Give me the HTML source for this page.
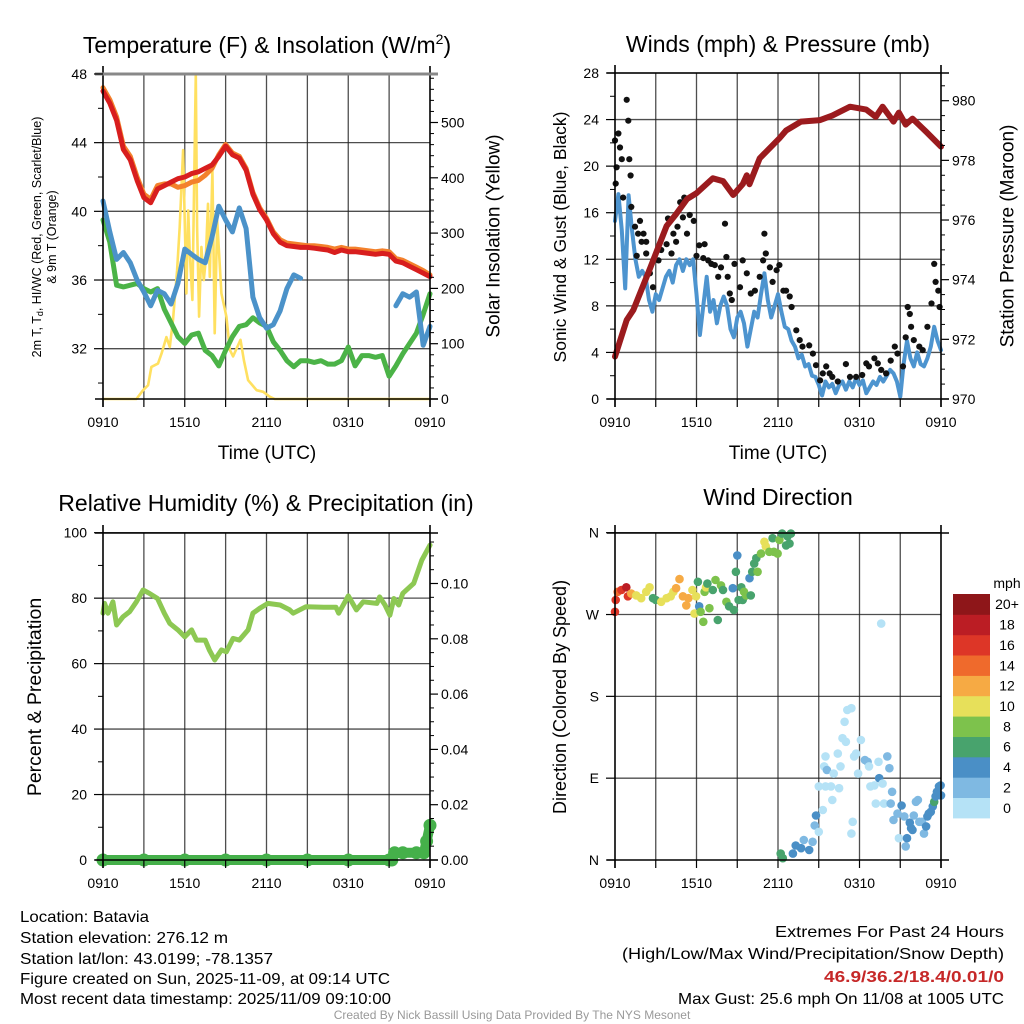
<!DOCTYPE html>
<html><head><meta charset="utf-8"><title>Mesonet Meteogram</title>
<style>
html,body{margin:0;padding:0;background:#fff;}
svg{display:block;font-family:"Liberation Sans",Arial,sans-serif;}
</style></head>
<body>
<svg id="chart" width="1024" height="1024" viewBox="0 0 1024 1024" xmlns="http://www.w3.org/2000/svg">
<rect x="0" y="0" width="1024" height="1024" fill="#fff"/>
<text x="267" y="53" font-size="23" text-anchor="middle">Temperature (F) &amp; Insolation (W/m<tspan font-size="14" dy="-9">2</tspan><tspan dy="9">)</tspan></text>
<text x="778" y="52" font-size="23" text-anchor="middle">Winds (mph) &amp; Pressure (mb)</text>
<text x="266" y="511" font-size="23" text-anchor="middle">Relative Humidity (%) &amp; Precipitation (in)</text>
<text x="778" y="505" font-size="23" text-anchor="middle">Wind Direction</text>
<text x="267" y="459" font-size="19" text-anchor="middle">Time (UTC)</text>
<text x="778" y="459" font-size="19" text-anchor="middle">Time (UTC)</text>
<text transform="translate(37,237) rotate(-90)" font-size="12.5" text-anchor="middle" dominant-baseline="central">2m T, T<tspan font-size="9" dy="3">d</tspan><tspan dy="-3">, HI/WC (Red, Green, Scarlet/Blue)</tspan></text>
<text transform="translate(52,237) rotate(-90)" font-size="12.5" text-anchor="middle" dominant-baseline="central">&amp; 9m T (Orange)</text>
<text transform="translate(494,236) rotate(-90)" font-size="19" text-anchor="middle" dominant-baseline="central">Solar Insolation (Yellow)</text>
<text transform="translate(560,237) rotate(-90)" font-size="17.5" text-anchor="middle" dominant-baseline="central">Sonic Wind &amp; Gust (Blue, Black)</text>
<text transform="translate(1008,236) rotate(-90)" font-size="19" text-anchor="middle" dominant-baseline="central">Station Pressure (Maroon)</text>
<text transform="translate(35,697) rotate(-90)" font-size="19.5" text-anchor="middle" dominant-baseline="central">Percent &amp; Precipitation</text>
<text transform="translate(560,697) rotate(-90)" font-size="18" text-anchor="middle" dominant-baseline="central">Direction (Colored By Speed)</text>
<g font-size="16">
<text x="20" y="922" textLength="129" lengthAdjust="spacingAndGlyphs">Location: Batavia</text>
<text x="20" y="943" textLength="208" lengthAdjust="spacingAndGlyphs">Station elevation: 276.12 m</text>
<text x="20" y="964" textLength="253" lengthAdjust="spacingAndGlyphs">Station lat/lon: 43.0199; -78.1357</text>
<text x="20" y="984" textLength="370" lengthAdjust="spacingAndGlyphs">Figure created on Sun, 2025-11-09, at 09:14 UTC</text>
<text x="20" y="1004" textLength="371" lengthAdjust="spacingAndGlyphs">Most recent data timestamp: 2025/11/09 09:10:00</text>
</g>
<g font-size="16" text-anchor="end">
<text x="1004" y="937" textLength="229" lengthAdjust="spacingAndGlyphs">Extremes For Past 24 Hours</text>
<text x="1004" y="959" textLength="382" lengthAdjust="spacingAndGlyphs">(High/Low/Max Wind/Precipitation/Snow Depth)</text>
<text x="1004" y="982" fill="#c62828" font-weight="bold" textLength="180" lengthAdjust="spacingAndGlyphs">46.9/36.2/18.4/0.01/0</text>
<text x="1004" y="1004" textLength="326" lengthAdjust="spacingAndGlyphs">Max Gust: 25.6 mph On 11/08 at 1005 UTC</text>
</g>
<text x="512" y="1019" font-size="12" fill="#999" text-anchor="middle">Created By Nick Bassill Using Data Provided By The NYS Mesonet</text>
<g id="plots"></g>
</svg>
<script>
const halfHours = [0,0.5,1,1.5,2,2.5,3,3.5,4,4.5,5,5.5,6,6.5,7,7.5,8,8.5,9,9.5,10,10.5,11,11.5,12,12.5,13,13.5,14,14.5,15,15.5,16,16.5,17,17.5,18,18.5,19,19.5,20,20.5,21,21.5,22,22.5,23,23.5,24];
const tempRed = [47.0,46.3,45.3,43.6,43.0,41.8,40.8,40.5,41.3,41.5,41.7,41.9,42.0,42.2,42.3,42.5,42.7,43.2,43.8,43.3,43.1,42.4,41.0,40.1,39.5,38.7,38.2,38.0,37.95,37.9,37.9,37.85,37.8,37.75,37.6,37.75,37.65,37.65,37.6,37.55,37.5,37.55,37.5,37.1,37.0,36.8,36.6,36.4,36.2];
const tempOrange = [47.2,46.5,45.5,43.8,43.2,42.0,41.0,40.7,41.5,41.6,41.6,41.4,41.5,41.7,41.8,42.1,42.5,43.3,43.9,43.4,43.2,42.5,41.1,40.2,39.6,38.8,38.35,38.15,38.1,38.05,38.0,38.0,37.95,37.9,37.8,37.9,37.8,37.8,37.75,37.7,37.65,37.7,37.65,37.25,37.15,36.95,36.75,36.55,36.3];
const tempBlue = [40.6,38.8,37.2,37.6,37.0,36.0,35.3,34.5,35.4,35.2,34.6,35.8,37.8,37.5,37.2,37.0,38.5,40.3,39.5,38.8,40.2,39.0,35.0,33.8,33.2,33.4,34.2,35.5,36.3,36.1,null,null,null,null,null,null,null,null,null,null,null,null,null,34.5,35.2,35.0,35.3,32.2,33.3];
const tempGreen = [39.5,38.2,35.7,35.6,35.7,35.8,35.5,35.3,35.5,34.3,33.5,32.7,32.3,32.8,32.9,31.9,31.6,31.0,31.9,32.7,33.3,33.4,33.8,33.5,33.3,32.4,31.9,31.3,30.95,31.3,31.3,31.2,31.3,31.1,31.1,31.3,32.1,31.0,31.6,31.6,31.5,31.6,30.4,31.0,31.7,32.3,32.9,34.0,35.2];
const solarHours = [0,2.45,2.94,3.31,3.55,4.04,4.29,4.65,4.9,5.14,5.44,5.63,5.88,6.12,6.25,6.37,6.56,6.81,6.91,7.05,7.22,7.4,7.54,7.71,7.84,8.03,8.2,8.38,8.69,9.06,9.31,9.55,10.09,10.34,10.65,11.27,11.76,12.25,12.61,24];
const solarValues = [0,0,16,25,58,64,82,112,94,143,233,311,450,191,341,263,179,588,311,149,275,215,251,353,221,414,119,323,191,149,89,77,107,70,34,16,13,4,0,0];
const pressureHours = [0,0.86,1.35,2.6,3.8,4.5,5.3,6,7.2,7.96,8.7,9.4,9.7,9.9,10.65,12.1,12.6,13.7,15.1,16,17.3,18.5,19.2,19.7,20.5,20.9,21.4,21.9,22.9,24];
const pressureValues = [971.42,972.65,972.98,974.4,975.8,976.2,976.7,976.9,977.4,977.3,976.84,977.2,977.5,977.2,978.07,978.74,979.0,979.3,979.35,979.5,979.8,979.7,979.46,979.8,979.3,979.6,979.2,979.4,978.96,978.46];
const windHours = [0,0.25,0.5,0.75,1,1.25,1.5,1.75,2,2.25,2.5,2.75,3,3.25,3.5,3.75,4,4.25,4.5,4.75,5,5.25,5.5,5.75,6,6.25,6.5,6.75,7,7.25,7.5,7.75,8,8.25,8.5,8.75,9,9.25,9.5,9.75,10,10.25,10.5,10.75,11,11.25,11.5,11.75,12,12.25,12.5,12.75,13,13.25,13.5,13.75,14,14.25,14.5,14.75,15,15.25,15.5,15.75,16,16.25,16.5,16.75,17,17.25,17.5,17.75,18,18.25,18.5,18.75,19,19.25,19.5,19.75,20,20.25,20.5,20.75,21,21.25,21.5,21.75,22,22.25,22.5,22.75,23,23.25,23.5,23.75,24];
const windSpeeds = [15.3,17.6,14.5,9.5,17.5,14.5,12,10.5,11,10.5,8.5,7.5,9,8.5,9.5,10.5,11,10,11.5,12,11,12,11.5,12,9,5.5,8,10.5,7.5,8.5,6.5,8,8.8,8,6,5.3,7,7.5,6.5,4.5,6,7.5,7,9,10.8,8.5,7,8,9,7.5,6.2,6,5,4.5,3.5,3.8,2.8,3,2,1.9,1.2,0.3,1.5,1,1.3,0.5,1.2,1.5,0.8,1.5,1,1.8,1.2,1.6,0.5,1,1.5,1.2,1.9,1.5,2,2.5,2.2,1.5,0.2,3,5,3.5,2.8,4,3,2.8,3.5,4.5,6.2,5,4.2];
const gustHours = [0,0.05,0.12,0.25,0.37,0.5,0.6,0.86,0.98,1.05,1.15,1.2,1.47,1.6,1.7,1.84,1.96,2.1,2.3,2.3,2.57,2.8,3.2,3.4,3.8,3.9,4.16,4.3,4.5,4.6,4.8,5.0,5.1,5.3,5.5,5.8,6.0,6.2,6.5,6.6,6.86,7.1,7.35,7.6,7.8,8.1,8.2,8.3,8.45,8.6,8.8,9.2,9.4,9.7,10.0,10.3,10.65,10.9,11.0,11.1,11.4,11.6,11.9,12.1,12.4,12.6,12.86,13.0,13.35,13.6,13.8,14.3,14.57,14.8,15.1,15.3,15.55,15.8,16.0,16.4,17.0,17.3,17.75,18.2,18.5,18.7,19.1,19.35,19.6,19.96,20.3,20.6,20.8,21.2,21.4,21.55,21.7,21.8,22.0,22.4,22.65,23.0,23.3,23.5,23.6,23.8,23.9];
const gustValues = [22.2,18.5,19.9,22.8,21.6,20.6,17.3,25.7,23.9,20.6,19.2,16.5,14.8,12.3,14.2,15.3,13.5,14.2,13.5,12.5,10.8,9.6,11.9,12.8,13.3,15.5,12.5,14.2,13.5,14.8,16.9,15.6,17.3,14.2,15.8,15.3,12.3,13.2,12.1,13.3,11.9,11.6,11.5,10.5,11.3,15.06,12.2,10.5,9.06,8.5,11.6,9.6,11.9,10.8,9.06,9.3,10.5,11.9,14.2,12.5,11.3,10.06,11.06,11.5,9.3,9.3,8.8,7.9,5.9,5.06,4.5,4.6,3.9,2.9,1.6,2.2,2.8,2.2,1.9,1.5,3.0,1.9,1.9,2.06,3.06,2.8,3.5,3.06,2.5,2.2,3.3,4.5,3.9,2.8,5.3,7.9,7.3,6.2,5.06,4.5,4.2,6.2,8.2,11.6,10.06,9.3,7.9];
const rhHours = [0,0.12,0.37,0.73,1.0,1.47,1.96,2.45,2.94,3.4,4.0,4.5,4.9,5.5,6.0,6.5,6.86,7.5,7.8,8.2,8.7,9.06,9.55,10.0,10.65,11.0,11.5,12.1,13.0,13.7,13.96,14.9,16.2,17.1,17.3,18.0,18.6,19.1,20.1,20.3,20.7,21.06,21.35,21.7,22.0,22.8,23.4,24];
const rhValues = [75.4,78.4,75.4,78.9,71.8,74.3,75.9,78.9,82.5,81.5,79.9,75.4,72.3,70.3,68.2,70.3,67.2,67.2,64.2,61.1,64.2,63.6,67.7,67.2,70.3,75.4,76.9,78.4,77.9,76.4,75.4,77.4,77.2,77.2,75.4,80.7,76.4,78.9,78.4,80.4,77.9,74.8,79.9,77.9,81.5,84.5,91.6,96.2];
const precipHours = [0,3,6,9,12,15,18,21,21.2,21.4,22,23,23.55,23.75,24];
const precipValues = [0,0,0,0,0,0,0,0,0,0.0026,0.0026,0.0026,0.0026,0.0068,0.0125];
const dirHours = [0,0.05,0.2,0.47,0.83,0.95,1.2,1.57,1.93,2.3,2.55,2.8,3.0,3.4,3.8,4.1,4.3,4.5,4.75,5.0,5.25,5.4,5.7,5.85,5.97,6.1,6.2,6.3,6.5,6.6,6.7,6.8,6.95,7.2,7.4,7.57,7.8,7.95,8.2,8.4,8.67,8.75,8.9,9.0,9.1,9.3,9.4,9.5,9.65,9.9,10.0,10.1,10.25,10.4,10.5,10.75,11.0,11.1,11.36,11.6,11.7,11.97,12.1,12.3,12.6,12.7,12.85,12.95,12.2,12.35,13.1,13.3,13.7,13.9,14.3,14.55,14.8,14.7,15.0,15.3,15.0,15.5,15.4,15.5,15.6,15.9,16.0,16.1,16.4,16.5,16.6,16.75,16.9,17.0,17.1,17.4,17.5,17.4,17.6,17.75,17.9,18.1,18.4,18.6,18.7,18.8,19.1,19.2,19.4,19.45,19.6,19.7,19.8,20.05,20.2,20.3,20.4,20.5,20.8,20.9,21.1,21.3,21.4,21.5,21.7,21.8,21.9,22.0,22.15,22.3,22.4,22.6,22.75,22.9,23.0,23.1,23.25,23.4,23.5,23.6,23.7,23.85,23.97,24];
const dirDegrees = [273,286,295,297,300,290,293,291,288,295,300,288,286,284,288,290,295,299,309,290,280,288,297,271,290,306,279,273,262,295,300,304,277,297,308,264,302,297,284,279,299,275,317,335,286,300,286,295,291,310,291,317,326,332,317,337,350,345,339,354,339,337,352,359,346,356,348,359,7,2,7,16,13,22,11,20,49,38,31,55,81,81,103,114,99,81,66,95,117,79,103,134,152,130,165,167,42,29,114,117,95,132,110,108,103,81,82,62,108,90,260,84,62,114,101,62,75,44,51,24,60,48,15,24,41,35,33,49,64,66,42,42,29,37,48,51,53,59,64,70,75,81,82,71];
const dirSpeeds = [16,16,14,16,18,16,12,10,10,10,10,6,6,10,10,10,10,12,12,12,12,12,10,10,10,6,4,8,8,8,10,6,8,6,8,6,8,6,8,6,4,6,6,4,6,6,6,8,8,4,6,6,6,6,8,8,10,10,8,6,8,8,8,6,6,6,6,6,6,6,4,4,4,2,4,2,4,2,0,0,0,0,0,0,2,0,0,0,0,0,0,0,0,0,0,0,0,0,0,0,0,0,2,2,0,0,0,0,0,4,0,0,0,2,2,2,2,2,2,0,4,2,2,4,4,4,4,2,2,2,2,2,2,4,4,4,4,4,6,4,4,4,4,4];
const speedColors = ["#b5e2f6","#7fb9e2","#4a8fc6","#48a36d","#7dc24c","#e7e05a","#f6aa44","#ef6a2c","#dd3627","#bb1d24","#8e1619"];
const speedLabels = ["0","2","4","6","8","10","12","14","16","18","20+"];
const tempTicks = [32,36,40,44,48];
const solarTicks = [0,100,200,300,400,500];
const windTicks = [0,4,8,12,16,20,24,28];
const pressureTicks = [970,972,974,976,978,980];
const rhTicks = [0,20,40,60,80,100];
const precipTicks = [0,0.02,0.04,0.06,0.08,0.10];
const dirTicks = [0,90,180,270,360];
const dirTickLabels = ["N","E","S","W","N"];
const timeTicks = [0,6,12,18,24];
const timeTickLabels = ["0910","1510","2110","0310","0910"];

const NS = "http://www.w3.org/2000/svg";
const root = document.getElementById("plots");
const LX0 = 103, LX1 = 430, RX0 = 615, RX1 = 941;
const xL = h => LX0 + h / 24 * (LX1 - LX0);
const xR = h => RX0 + h / 24 * (RX1 - RX0);
const tempY = v => 399 - (v - 29.07) * 17.17;
const solarY = v => Math.max(73, 399 - v * 0.553);
const windY = v => 399 - v * (326 / 28);
const presY = p => 399 - (p - 970) * 29.83;
const rhY = v => 860 - v * 3.273;
const precipY = v => 860 - v * 2765;
const dirY = d => 860 - d * (327.3 / 360);

function el(tag, attrs) {
  const e = document.createElementNS(NS, tag);
  for (const k in attrs) e.setAttribute(k, attrs[k]);
  return e;
}
function pathD(hs, vs, xf, yf) {
  let d = "", pen = false;
  for (let i = 0; i < hs.length; i++) {
    if (vs[i] === null || vs[i] === undefined) { pen = false; continue; }
    d += (pen ? "L" : "M") + xf(hs[i]).toFixed(1) + "," + yf(vs[i]).toFixed(1);
    pen = true;
  }
  return d;
}
function frame(x0, x1, y0, y1, hx) {
  const g = el("g", {});
  
  
  for (let h = 3; h < 24; h += 3) {
    const l = el("line", {x1: hx(h), x2: hx(h), y1: y0, y2: y1, stroke: "#222", "stroke-width": 1.3, "stroke-opacity": 0.8});
    
    
    g.appendChild(l);
  }
  root.appendChild(g);
  return g;
}
function hgrid(g, x0, x1, ys) {
  ys.forEach(y => {
    const l = el("line", {x1: x0, x2: x1, y1: y, y2: y, stroke: "#222", "stroke-width": 1.3, "stroke-opacity": 0.8});
    
    
    g.appendChild(l);
  });
}
function border(x0, x1, y0, y1, topGrey) {
  const g = el("g", {stroke: "#000", "stroke-width": 1.6, fill: "none"});
  
  
  g.appendChild(el("line", {x1: x0, x2: x0, y1: y0 - 8, y2: y1 + 8}));
  g.appendChild(el("line", {x1: x1, x2: x1, y1: y0 - 8, y2: y1 + 8}));
  g.appendChild(el("line", {x1: x0 - 8, x2: x1 + 8, y1: y1, y2: y1}));
  g.appendChild(el("line", {x1: x0 - 8, x2: x1 + 8, y1: y0, y2: y0, stroke: topGrey ? "#888" : "#000", "stroke-width": topGrey ? 3 : 1.6}));
  root.appendChild(g);
}
function leftTicks(x0, ticks, labels, yf, minorVals) {
  const g = el("g", {"font-size": 14, "text-anchor": "end"});
  
  
  ticks.forEach((t, i) => {
    const y = yf(t);
    const tk = el("line", {x1: x0 - 9, x2: x0, y1: y, y2: y, stroke: "#000", "stroke-width": 1.2});
    
    
    g.appendChild(tk);
    const tx = el("text", {x: x0 - 16, y: y + 5});
    
    
    tx.textContent = labels[i];
    g.appendChild(tx);
  });
  minorVals.forEach(t => {
    const y = yf(t);
    const tk = el("line", {x1: x0 - 5, x2: x0, y1: y, y2: y, stroke: "#000", "stroke-width": 1});
    
    
    g.appendChild(tk);
  });
  root.appendChild(g);
}
function rightTicks(x1, ticks, labels, yf, minorVals) {
  const g = el("g", {"font-size": 14, "text-anchor": "start"});
  
  
  ticks.forEach((t, i) => {
    const y = yf(t);
    const tk = el("line", {x1: x1, x2: x1 + 8, y1: y, y2: y, stroke: "#000", "stroke-width": 1.2});
    
    
    g.appendChild(tk);
    const tx = el("text", {x: x1 + 11, y: y + 5});
    
    
    tx.textContent = labels[i];
    g.appendChild(tx);
  });
  minorVals.forEach(t => {
    const y = yf(t);
    const tk = el("line", {x1: x1, x2: x1 + 4, y1: y, y2: y, stroke: "#000", "stroke-width": 1});
    
    
    g.appendChild(tk);
  });
  root.appendChild(g);
}
function timeAxis(hx, yb) {
  const g = el("g", {"font-size": 14, "text-anchor": "middle"});
  
  
  for (let h = 0; h <= 24; h += 3) {
    const tk = el("line", {x1: hx(h), x2: hx(h), y1: yb, y2: yb + 8, stroke: "#000", "stroke-width": 1.2});
    
    
    g.appendChild(tk);
  }
  timeTicks.forEach((t, i) => {
    const tx = el("text", {x: hx(t), y: yb + 28});
    
    
    tx.textContent = timeTickLabels[i];
    g.appendChild(tx);
  });
  root.appendChild(g);
}
function range(a, b, s) { const r = []; for (let v = a; v <= b + 1e-9; v += s) r.push(+v.toFixed(4)); return r; }
function seriesLine(hs, vs, xf, yf, color, w) {
  const p = el("path", {d: pathD(hs, vs, xf, yf), fill: "none", stroke: color, "stroke-width": w, "stroke-linejoin": "round", "stroke-linecap": "round"});
  root.appendChild(p);
  return p;
}

// panel 1
const g1 = frame(LX0, LX1, 74, 399, xL);
hgrid(g1, LX0, LX1, tempTicks.slice(0, 4).map(tempY));
let s;
s = seriesLine(solarHours, solarValues, xL, solarY, "#ffe060", 2.6);


s = seriesLine(halfHours, tempGreen, xL, tempY, "#4bb347", 5);


s = seriesLine(halfHours, tempBlue, xL, tempY, "#4b92c9", 5);


s = seriesLine(halfHours, tempOrange, xL, tempY, "#f3812c", 5);


s = seriesLine(halfHours, tempRed, xL, tempY, "#d81e1e", 5);


border(LX0, LX1, 74, 399, true);
leftTicks(LX0, tempTicks, tempTicks.map(String), tempY, range(30, 46, 4));
rightTicks(LX1, solarTicks, solarTicks.map(String), solarY, range(20, 580, 20).filter(v => v % 100 !== 0));
timeAxis(xL, 399);

// panel 2
const g2 = frame(RX0, RX1, 73, 399, xR);
hgrid(g2, RX0, RX1, windTicks.slice(1).map(windY));
s = seriesLine(windHours, windSpeeds, xR, windY, "#4d94cf", 4);


const gg = el("g", {fill: "#111"});


gustHours.forEach((h, i) => {
  const c = el("circle", {cx: xR(h).toFixed(1), cy: windY(gustValues[i]).toFixed(1), r: 3.1});
  
  
  gg.appendChild(c);
});
root.appendChild(gg);
s = seriesLine(pressureHours, pressureValues, xR, presY, "#9b1b1e", 6);


border(RX0, RX1, 73, 399, false);
leftTicks(RX0, windTicks, windTicks.map(String), windY, range(2, 26, 4));
rightTicks(RX1, pressureTicks, pressureTicks.map(String), presY, range(970.5, 980.5, 0.5).filter(v => Math.abs(v % 2) > 1e-6));
timeAxis(xR, 399);

// panel 3
const g3 = frame(LX0, LX1, 533, 860, xL);
hgrid(g3, LX0, LX1, rhTicks.slice(1).map(rhY));
s = seriesLine(rhHours, rhValues, xL, rhY, "#8dc853", 5);


s = seriesLine(precipHours, precipValues, xL, precipY, "#45b04a", 10);


const gp = el("g", {fill: "#45b04a"});


precipHours.forEach((h, i) => {
  const c = el("circle", {cx: xL(h).toFixed(1), cy: precipY(precipValues[i]).toFixed(1), r: 6.5});
  
  
  gp.appendChild(c);
});
root.appendChild(gp);
border(LX0, LX1, 533, 860, false);
leftTicks(LX0, rhTicks, rhTicks.map(String), rhY, range(10, 90, 20));
rightTicks(LX1, precipTicks, precipTicks.map(v => v.toFixed(2)), precipY, range(0.005, 0.115, 0.005).filter(v => Math.abs((v * 1000) % 20) > 1e-3));
timeAxis(xL, 860);

// panel 4
const g4 = frame(RX0, RX1, 533, 860, xR);
hgrid(g4, RX0, RX1, dirTicks.slice(1).map(dirY));
const gd = el("g", {});


dirHours.forEach((h, i) => {
  const bin = Math.min(10, Math.max(0, Math.floor(dirSpeeds[i] / 2)));
  const c = el("circle", {cx: xR(h).toFixed(1), cy: dirY(dirDegrees[i]).toFixed(1), r: 4.3, fill: speedColors[bin]});
  
  
  gd.appendChild(c);
});
root.appendChild(gd);
border(RX0, RX1, 533, 860, false);
leftTicks(RX0, dirTicks, dirTickLabels, dirY, []);
timeAxis(xR, 860);

const gc = el("g", {"font-size": 14, "text-anchor": "middle"});


const cbTop = 594, cbH = 20.36;
speedColors.forEach((col, i) => {
  const y = cbTop + (10 - i) * cbH;
  const r = el("rect", {x: 953, y: y.toFixed(1), width: 37, height: (cbH + 0.4).toFixed(1), fill: col});
  
  
  gc.appendChild(r);
  const t = el("text", {x: 1007, y: (y + cbH / 2 + 5).toFixed(1)});
  
  
  t.textContent = speedLabels[i];
  gc.appendChild(t);
});
const mt = el("text", {x: 1007, y: 588});


mt.textContent = "mph";
gc.appendChild(mt);
root.appendChild(gc);
</script>
</body></html>
